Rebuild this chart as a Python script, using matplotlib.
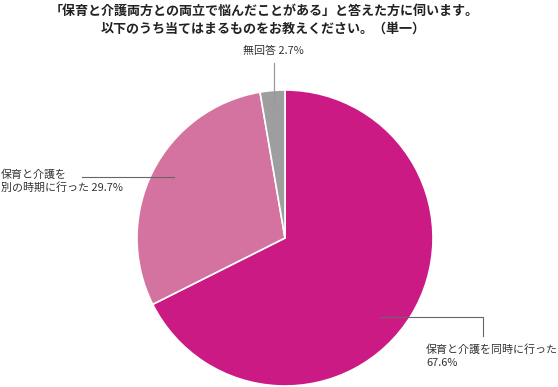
import matplotlib
matplotlib.use("Agg")
import matplotlib.pyplot as plt

plt.rcParams['font.family'] = ['Noto Sans CJK JP', 'DejaVu Sans']

title_lines = ["「保育と介護両方との両立で悩んだことがある」と答えた方に伺います。",
               "以下のうち当てはまるものをお教えください。（単一）"]
categories = ["保育と介護を同時に行った", "保育と介護を\n別の時期に行った", "無回答"]
values = [67.6, 29.7, 2.7]
colors = ["#CC1A85", "#D4739F", "#9E9E9E"]

W, H = 558, 387
fig = plt.figure(figsize=(W / 100, H / 100), dpi=100)

cx, cy, r = 285, 238, 148
ax = fig.add_axes([(cx - r) / W, (H - cy - r) / H, 2 * r / W, 2 * r / H])
ax.pie(values, colors=colors, startangle=90, counterclock=False,
       wedgeprops=dict(edgecolor="white", linewidth=1.2))
ax.set_xlim(-1, 1)
ax.set_ylim(-1, 1)
ax.set_aspect("equal")
ax.axis("off")

def px(x, y):
    return ((x - cx) / r, (cy - y) / r)

lc = "#666666"
# magenta leader
xs, ys = zip(px(380, 317), px(483, 317), px(483, 336))
ax.plot(xs, ys, color=lc, lw=0.8, clip_on=False)
# pink leader
xs, ys = zip(px(174, 177), px(82, 177))
ax.plot(xs, ys, color=lc, lw=0.8, clip_on=False)
# gray leader
xs, ys = zip(px(274, 105), px(274, 63))
ax.plot(xs, ys, color="#999999", lw=0.9, clip_on=False)

fs = 7.9
fig.text(426 / W, 1 - 356 / H, f"{categories[0]}\n{values[0]}%", fontsize=fs,
         ha="left", va="center", color="#333333", linespacing=1.35)
lab1 = categories[1].split("\n")
fig.text(1 / W, 1 - 181 / H, f"{lab1[0]}\n{lab1[1]} {values[1]}%", fontsize=fs,
         ha="left", va="center", color="#333333", linespacing=1.35)
fig.text(243 / W, 1 - 51 / H, f"{categories[2]} {values[2]}%", fontsize=fs,
         ha="left", va="center", color="#333333")

fig.text(264 / W, 1 - 11 / H, title_lines[0], fontsize=9.4, fontweight="bold",
         ha="center", va="center", color="#222222")
fig.text(263 / W, 1 - 29 / H, title_lines[1], fontsize=9.4, fontweight="bold",
         ha="center", va="center", color="#222222")

fig.savefig("out.png", dpi=100)
